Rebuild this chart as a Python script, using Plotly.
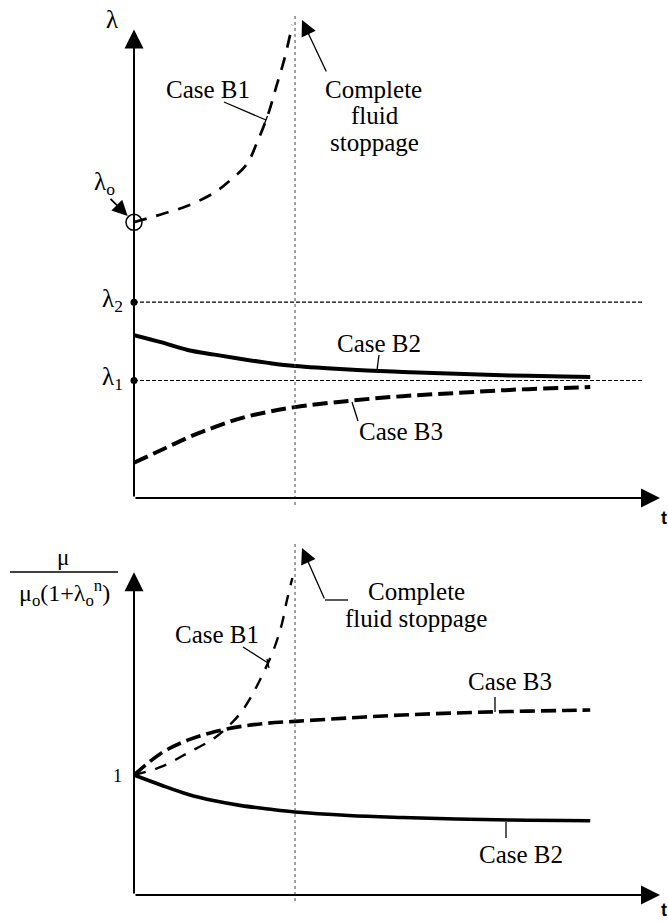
import plotly.graph_objects as go

W, H = 668, 923
SERIF = "Liberation Serif, Times New Roman, serif"
SANS = "Liberation Sans, Arial, sans-serif"

# ---------------- data (top panel: lambda vs t) ----------------
T_STOP = 3.0            # time of complete fluid stoppage
LAM0, LAM1, LAM2 = 3.52, 1.5, 2.5
T_REF_END = 9.47        # extent of the lambda_1 / lambda_2 reference lines

t_top = [0, 0.5, 1, 1.5, 2, 2.5, 3, 4, 5, 6, 7, 8, 8.5]
b2_top = [2.08, 1.99, 1.89, 1.83, 1.775, 1.725, 1.685, 1.64, 1.61, 1.585, 1.565, 1.55, 1.545]
b3_top = [0.45, 0.61, 0.77, 0.905, 1.02, 1.10, 1.16, 1.24, 1.30, 1.34, 1.38, 1.405, 1.417]
t_b1_top = [0, 0.5, 1.0, 1.5, 1.8, 2.1, 2.3, 2.5, 2.65, 2.8, 2.95]
b1_top = [3.52, 3.62, 3.73, 3.90, 4.06, 4.26, 4.55, 4.90, 5.25, 5.60, 6.04]

# ---------------- data (bottom panel: normalised viscosity vs t) ----------------
t_bot = [0, 0.5, 1, 1.5, 2, 2.5, 3, 4, 5, 6, 7, 8, 8.5]
b2_bot = [1.0, 0.917, 0.84, 0.785, 0.745, 0.717, 0.692, 0.663, 0.646, 0.633, 0.625, 0.621, 0.619]
b3_bot = [1.0, 1.18, 1.29, 1.36, 1.405, 1.432, 1.447, 1.475, 1.50, 1.517, 1.529, 1.538, 1.542]
t_b1_bot = [0, 0.5, 1.0, 1.5, 1.8, 2.0, 2.2, 2.4, 2.6, 2.75, 2.85, 2.95]
b1_bot = [1.0, 1.067, 1.183, 1.308, 1.425, 1.525, 1.667, 1.842, 2.042, 2.25, 2.458, 2.642]

# axis extents
T_AX = 9.8
LAM_AX = 5.98
MU_AX = 2.69


def P(px, py):
    return px / W, 1 - py / H


fig = go.Figure()

# ---- top panel traces ----
for lv in (LAM2, LAM1):
    fig.add_trace(go.Scatter(x=[0, T_REF_END], y=[lv, lv], mode="lines",
                             line=dict(color="black", width=1.1, dash="4px,2px"),
                             xaxis="x", yaxis="y", hoverinfo="skip"))
fig.add_trace(go.Scatter(x=t_top, y=b2_top, mode="lines",
                         line=dict(color="black", width=4, shape="spline"),
                         xaxis="x", yaxis="y"))
fig.add_trace(go.Scatter(x=t_top, y=b3_top, mode="lines",
                         line=dict(color="black", width=4, shape="spline", dash="15px,6px"),
                         xaxis="x", yaxis="y"))
fig.add_trace(go.Scatter(x=t_b1_top, y=b1_top, mode="lines",
                         line=dict(color="black", width=2.7, shape="spline", dash="13px,10px"),
                         xaxis="x", yaxis="y"))
fig.add_trace(go.Scatter(x=[0, 0], y=[LAM2, LAM1], mode="markers", cliponaxis=False,
                         marker=dict(color="black", size=7), xaxis="x", yaxis="y"))
fig.add_trace(go.Scatter(x=[0], y=[LAM0], mode="markers", cliponaxis=False,
                         marker=dict(symbol="circle-open", color="black", size=16,
                                     line=dict(width=1.5, color="black")),
                         xaxis="x", yaxis="y"))

# ---- bottom panel traces ----
fig.add_trace(go.Scatter(x=t_bot, y=b2_bot, mode="lines",
                         line=dict(color="black", width=3.6, shape="spline"),
                         xaxis="x2", yaxis="y2"))
fig.add_trace(go.Scatter(x=t_bot, y=b3_bot, mode="lines",
                         line=dict(color="black", width=3.6, shape="spline", dash="15px,6px"),
                         xaxis="x2", yaxis="y2"))
fig.add_trace(go.Scatter(x=t_b1_bot, y=b1_bot, mode="lines",
                         line=dict(color="black", width=2.4, shape="spline", dash="12px,10px"),
                         xaxis="x2", yaxis="y2"))

ann = []
shapes = []

# axes drawn as arrows
for xr, yr, ytip in (("x", "y", LAM_AX), ("x2", "y2", MU_AX)):
    ann.append(dict(x=0, y=ytip, ax=0, ay=0, xref=xr, yref=yr, axref=xr, ayref=yr,
                    text="", showarrow=True, arrowhead=2, arrowsize=1.9,
                    arrowwidth=2, arrowcolor="black"))
    ann.append(dict(x=T_AX, y=0, ax=0, ay=0, xref=xr, yref=yr, axref=xr, ayref=yr,
                    text="", showarrow=True, arrowhead=2, arrowsize=1.9,
                    arrowwidth=2, arrowcolor="black"))

# vertical dotted stoppage lines
shapes.append(dict(type="line", xref="x", yref="paper", x0=T_STOP, x1=T_STOP,
                   y0=P(0, 505)[1], y1=P(0, 14)[1],
                   line=dict(color="#444", width=1, dash="dot")))
shapes.append(dict(type="line", xref="x2", yref="paper", x0=T_STOP, x1=T_STOP,
                   y0=P(0, 901)[1], y1=P(0, 543)[1],
                   line=dict(color="#444", width=1, dash="dot")))


def text(px, py, s, size=25, xanchor="center", family=SERIF):
    x, y = P(px, py)
    ann.append(dict(x=x, y=y, xref="paper", yref="paper", text=s, showarrow=False,
                    xanchor=xanchor, yanchor="middle",
                    font=dict(family=family, size=size, color="black")))


def seg(p0, p1, w=1.3):
    x0, y0 = P(*p0)
    x1, y1 = P(*p1)
    shapes.append(dict(type="line", xref="paper", yref="paper", x0=x0, y0=y0, x1=x1, y1=y1,
                       line=dict(color="black", width=w)))


# ---- top labels ----
text(112, 19, "λ")
text(104, 184, "λ<sub>o</sub>")
text(125, 300, "λ<sub>2</sub>", xanchor="right")
text(125, 378, "λ<sub>1</sub>", xanchor="right")
text(208, 90, "Case B1")
text(373, 90, "Complete")
text(375, 116, "fluid")
text(374, 142, "stoppage")
text(379, 343, "Case B2")
text(401, 432, "Case B3")
text(664, 518, "<b>t</b>", size=18, family=SANS)

# lambda_0 pointer
ann.append(dict(x=0, y=LAM0, xref="x", yref="y", ax=-25, ay=-25, text="",
                showarrow=True, arrowhead=2, arrowsize=1.7, arrowwidth=1.8,
                standoff=9, arrowcolor="black"))
# stoppage pointer (top)
tx, ty = P(302, 20)
ann.append(dict(x=tx, y=ty, xref="paper", yref="paper", ax=25, ay=53, text="",
                showarrow=True, arrowhead=2, arrowsize=2.4, arrowwidth=1.3,
                arrowcolor="black"))

# leader lines top
seg((224, 102), (266, 120))
seg((264.5, 123.5), (267.5, 116))
seg((379, 355), (377, 370))
seg((352, 402), (358, 421))

# ---- bottom labels ----
text(63, 557, "μ", size=23)
seg((10, 572), (118, 572), 1.4)
text(64, 593, "μ<sub>o</sub>(1+λ<sub>o</sub><sup>n</sup>)", size=24)
text(117, 776, "1", size=18)
text(217, 634, "Case B1")
text(416, 591, "Complete")
text(416, 618, "fluid stoppage")
text(510, 681, "Case B3")
text(521, 854, "Case B2")
text(664, 910, "<b>t</b>", size=18, family=SANS)

tx, ty = P(302, 548)
ann.append(dict(x=tx, y=ty, xref="paper", yref="paper", ax=23, ay=52, text="",
                showarrow=True, arrowhead=2, arrowsize=2.4, arrowwidth=1.3,
                arrowcolor="black"))
seg((325, 600), (348, 600))

seg((243, 647), (268, 663))
seg((267, 659), (269, 668))
seg((495, 697), (495, 712))
seg((506, 822), (506, 838))

ax_common = dict(showgrid=False, zeroline=False, showticklabels=False, showline=False,
                 ticks="", fixedrange=True)
fig.update_layout(
    width=W, height=H, margin=dict(l=0, r=0, t=0, b=0),
    paper_bgcolor="white", plot_bgcolor="white", showlegend=False,
    xaxis=dict(domain=[134 / W, 660 / W], range=[0, T_AX], anchor="y", **ax_common),
    yaxis=dict(domain=[1 - 498 / H, 1 - 4.5 / H], range=[0, 6.3], anchor="x", **ax_common),
    xaxis2=dict(domain=[134 / W, 660 / W], range=[0, T_AX], anchor="y2", **ax_common),
    yaxis2=dict(domain=[1 - 895 / H, 1 - 565 / H], range=[0, 2.75], anchor="x2", **ax_common),
    annotations=ann, shapes=shapes,
)

fig.write_html("out.html")
